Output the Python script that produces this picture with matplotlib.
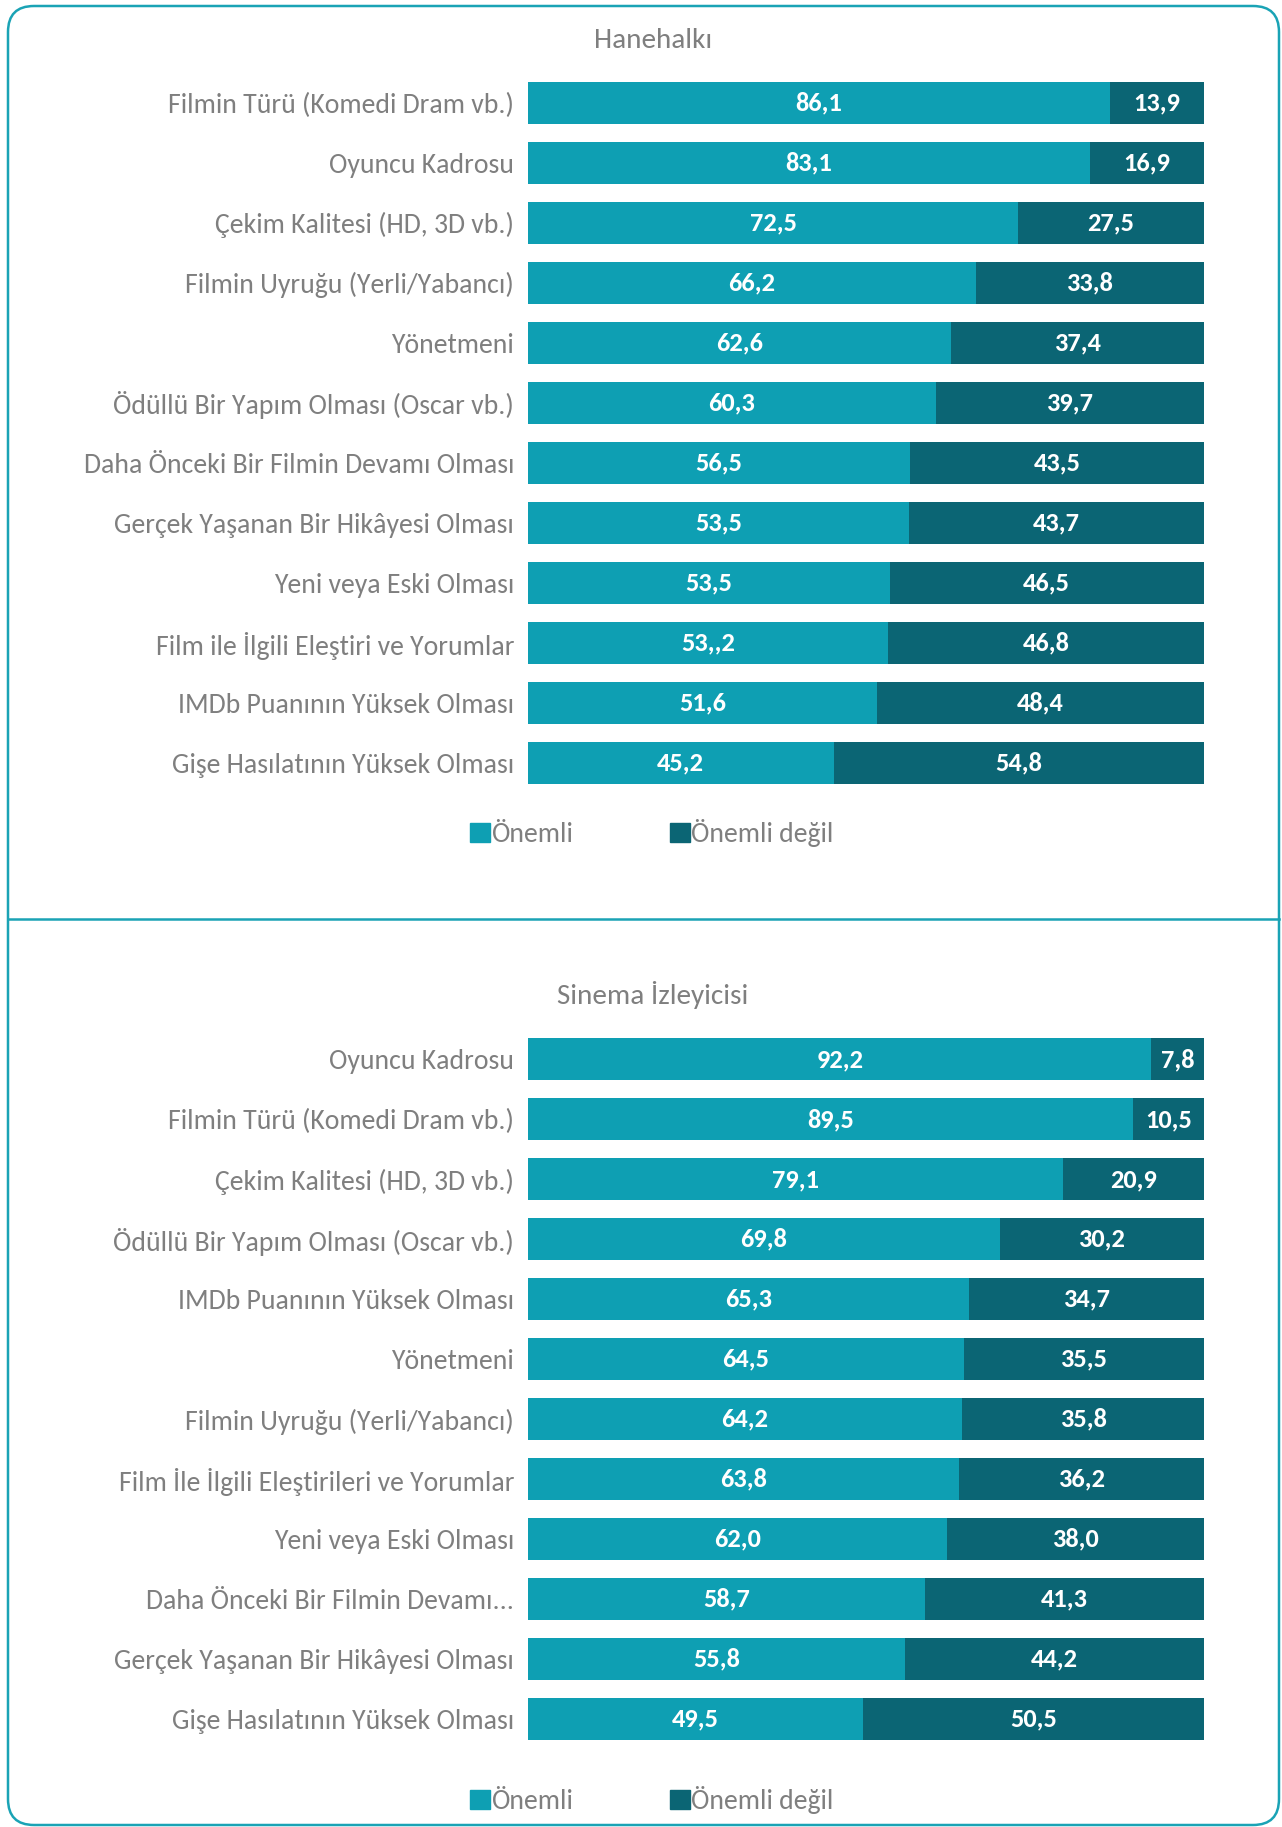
import matplotlib
matplotlib.use("Agg")
import matplotlib.pyplot as plt
from matplotlib.patches import FancyBboxPatch, Patch

plt.rcParams['font.family'] = ['Carlito', 'Lato', 'DejaVu Sans']

# Hanehalkı (household) panel
hh_categories = [
    "Filmin Türü (Komedi Dram vb.)",
    "Oyuncu Kadrosu",
    "Çekim Kalitesi (HD, 3D vb.)",
    "Filmin Uyruğu (Yerli/Yabancı)",
    "Yönetmeni",
    "Ödüllü Bir Yapım Olması (Oscar vb.)",
    "Daha Önceki Bir Filmin Devamı Olması",
    "Gerçek Yaşanan Bir Hikâyesi Olması",
    "Yeni veya Eski Olması",
    "Film ile İlgili Eleştiri ve Yorumlar",
    "IMDb Puanının Yüksek Olması",
    "Gişe Hasılatının Yüksek Olması",
]
hh_onemli = [86.1, 83.1, 72.5, 66.2, 62.6, 60.3, 56.5, 56.3, 53.5, 53.2, 51.6, 45.2]
hh_degil = [13.9, 16.9, 27.5, 33.8, 37.4, 39.7, 43.5, 43.7, 46.5, 46.8, 48.4, 54.8]
# labels as printed in the source (including its typos)
hh_onemli_labels = ["86,1", "83,1", "72,5", "66,2", "62,6", "60,3", "56,5", "53,5",
                    "53,5", "53,,2", "51,6", "45,2"]
hh_degil_labels = ["13,9", "16,9", "27,5", "33,8", "37,4", "39,7", "43,5", "43,7",
                   "46,5", "46,8", "48,4", "54,8"]

# Sinema İzleyicisi (cinema audience) panel
si_categories = [
    "Oyuncu Kadrosu",
    "Filmin Türü (Komedi Dram vb.)",
    "Çekim Kalitesi (HD, 3D vb.)",
    "Ödüllü Bir Yapım Olması (Oscar vb.)",
    "IMDb Puanının Yüksek Olması",
    "Yönetmeni",
    "Filmin Uyruğu (Yerli/Yabancı)",
    "Film İle İlgili Eleştirileri ve Yorumlar",
    "Yeni veya Eski Olması",
    "Daha Önceki Bir Filmin Devamı...",
    "Gerçek Yaşanan Bir Hikâyesi Olması",
    "Gişe Hasılatının Yüksek Olması",
]
si_onemli = [92.2, 89.5, 79.1, 69.8, 65.3, 64.5, 64.2, 63.8, 62.0, 58.7, 55.8, 49.5]
si_degil = [7.8, 10.5, 20.9, 30.2, 34.7, 35.5, 35.8, 36.2, 38.0, 41.3, 44.2, 50.5]

series_names = ["Önemli", "Önemli değil"]

C_LIGHT = "#0E9FB3"
C_DARK = "#0B6574"
C_TEXT = "#7F7F7F"
C_FRAME = "#1AA3B5"

W, H = 1282, 1827
fig = plt.figure(figsize=(W / 100, H / 100), dpi=100)

# background axes in pixel units for the frame and separator
bg = fig.add_axes([0, 0, 1, 1])
bg.set_xlim(0, W)
bg.set_ylim(H, 0)
bg.axis("off")
frame = FancyBboxPatch((8, 6), 1271, H - 8,
                       boxstyle="round,pad=0,rounding_size=26",
                       fill=False, ec=C_FRAME, lw=1.8)
bg.add_patch(frame)
bg.plot([8, 1279], [919, 919], color=C_FRAME, lw=1.8)


def draw_panel(rect, title, title_y, cats, v1, v2, l1, l2, legend_y):
    ax = fig.add_axes(rect)
    y = list(range(len(cats)))
    ax.barh(y, v1, height=0.7, color=C_LIGHT, label=series_names[0])
    ax.barh(y, v2, left=v1, height=0.7, color=C_DARK, label=series_names[1])
    for i in y:
        ax.text(v1[i] / 2, i, l1[i], ha="center", va="center",
                color="white", fontsize=19, fontweight="bold")
        ax.text(v1[i] + v2[i] / 2, i, l2[i], ha="center", va="center",
                color="white", fontsize=19, fontweight="bold")
    ax.set_xlim(0, 100)
    ax.set_ylim(len(cats) - 0.5, -0.5)
    ax.set_yticks(y)
    ax.set_yticklabels(cats, fontsize=20, color=C_TEXT)
    ax.tick_params(axis="y", length=0, pad=10)
    ax.set_xticks([])
    for s in ax.spines.values():
        s.set_visible(False)
    fig.text(653 / W, 1 - title_y / H, title, ha="center", va="center",
             fontsize=21, color=C_TEXT)
    handles = [Patch(color=C_LIGHT), Patch(color=C_DARK)]
    leg = fig.legend(handles, series_names, loc="center",
                     bbox_to_anchor=(652 / W, 1 - legend_y / H),
                     ncol=2, frameon=False, fontsize=20,
                     handlelength=0.7, handleheight=0.7,
                     handletextpad=0.05, columnspacing=3.5)
    for t in leg.get_texts():
        t.set_color(C_TEXT)
    return ax


draw_panel([528 / W, 1 - 793.4 / H, 676 / W, 720.8 / H], "Hanehalkı", 40,
           hh_categories, hh_onemli, hh_degil,
           hh_onemli_labels, hh_degil_labels, 833)

si_onemli_labels = [f"{v:.1f}".replace(".", ",") for v in si_onemli]
si_degil_labels = [f"{v:.1f}".replace(".", ",") for v in si_degil]
draw_panel([528 / W, 1 - 1749 / H, 676 / W, 719.5 / H], "Sinema İzleyicisi", 995,
           si_categories, si_onemli, si_degil,
           si_onemli_labels, si_degil_labels, 1800)

fig.savefig("out.png", dpi=100)
